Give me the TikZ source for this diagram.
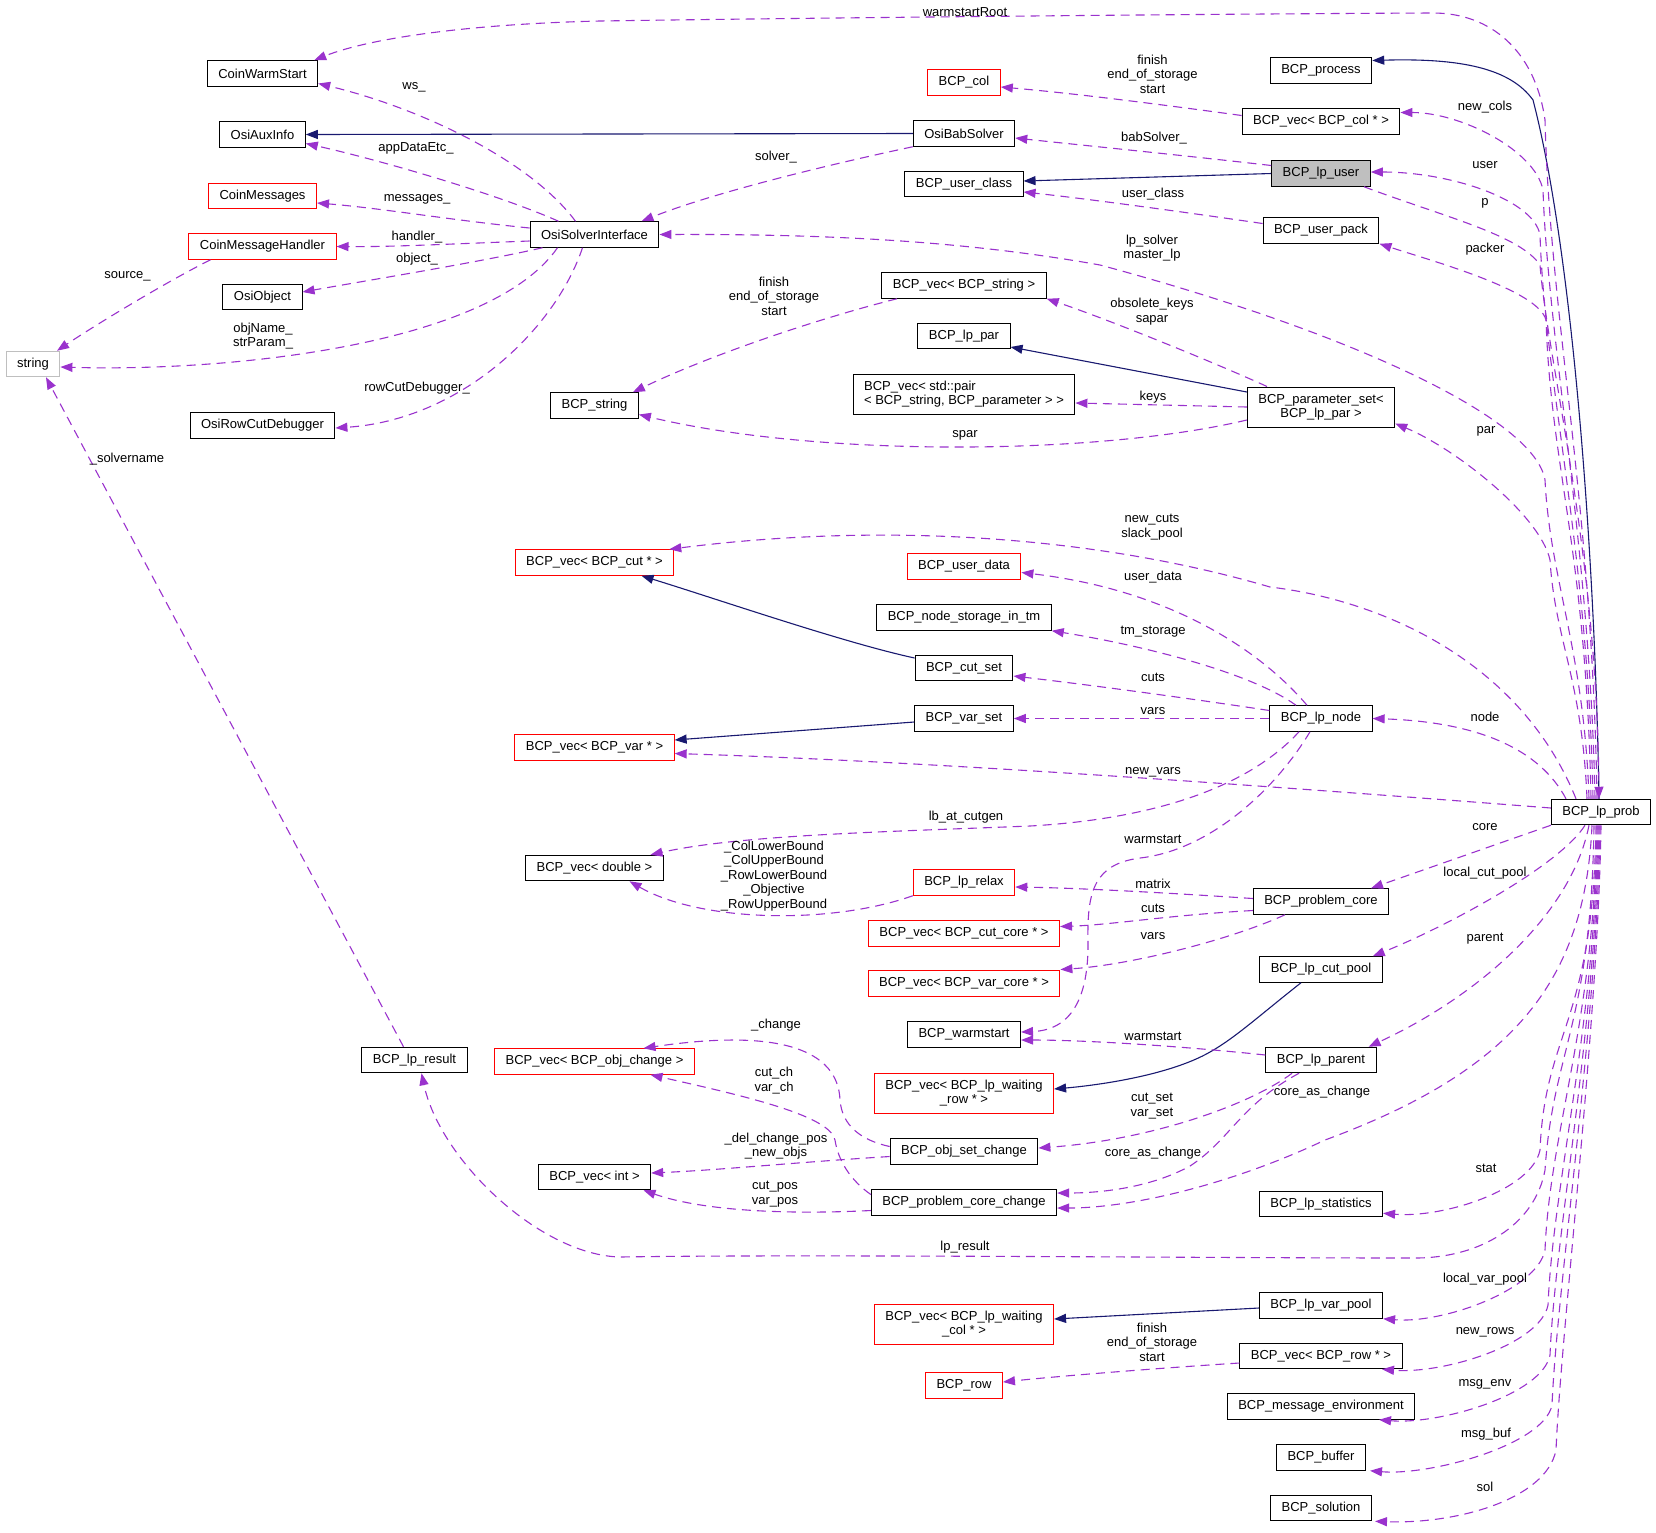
\documentclass[tikz,border=0pt]{standalone}
\usepackage{fontspec}
\setmainfont{Liberation Sans}
\usepackage{tikz}
\usetikzlibrary{arrows.meta}
\definecolor{membcol}{RGB}{154,50,205}
\definecolor{inhcol}{RGB}{25,25,112}
\definecolor{undoc}{RGB}{191,191,191}

\begin{document}
\begin{tikzpicture}[
  x=1pt,y=-1pt,
  cls/.style={draw,line width=1pt,fill=white,inner xsep=11pt,inner ysep=0pt,minimum height=25.5pt,align=center,font={\fontsize{13}{14}\selectfont}},
  ext/.style={cls,draw=red},
  tall/.style={minimum height=40pt},
  lbl/.style={inner sep=0pt,align=center,font={\fontsize{13}{14.5}\selectfont}},
  memb/.style={membcol,line width=1.1pt,dash pattern=on 9pt off 6pt,-{Triangle[length=12pt,width=9pt]}},
  inh/.style={inhcol,line width=1.1pt,-{Triangle[length=12pt,width=9pt]}}
]
\useasboundingbox (0,0) rectangle (1656,1532);

% left columns
\node[cls] (cws) at (262.5,73.5) {CoinWarmStart};
\node[cls] (aux) at (262.5,134.5) {OsiAuxInfo};
\node[ext] (cmsg) at (262.5,196) {CoinMessages};
\node[ext] (cmh) at (262.5,246.5) {CoinMessageHandler};
\node[cls] (oobj) at (262.5,297) {OsiObject};
\node[cls] (rcd) at (262.5,425.5) {OsiRowCutDebugger};
\node[cls,draw=undoc] (str) at (33,364) {string};
\node[cls] (osi) at (594.5,234.5) {OsiSolverInterface};
\node[cls] (lpres) at (414.5,1060) {BCP\_lp\_result};
\node[cls] (bstr) at (594.5,405.5) {BCP\_string};
\node[ext] (vcut) at (594.5,562.5) {BCP\_vec< BCP\_cut * >};
\node[ext] (vvar) at (594.5,747.5) {BCP\_vec< BCP\_var * >};
\node[cls] (vdbl) at (594.5,868) {BCP\_vec< double >};
\node[ext] (vobj) at (594.5,1061.5) {BCP\_vec< BCP\_obj\_change >};
\node[cls] (vint) at (594.5,1177) {BCP\_vec< int >};

% middle column
\node[ext] (col) at (964,82.5) {BCP\_col};
\node[cls] (bab) at (964,133.5) {OsiBabSolver};
\node[cls] (ucls) at (964,184) {BCP\_user\_class};
\node[cls] (vstr) at (964,285.5) {BCP\_vec< BCP\_string >};
\node[cls] (lppar) at (964,336) {BCP\_lp\_par};
\node[cls,tall,align=left] (vpair) at (964,394.5) {BCP\_vec< std::pair\\< BCP\_string, BCP\_parameter > >};
\node[ext] (udata) at (964,566.5) {BCP\_user\_data};
\node[cls] (nstor) at (964,617.5) {BCP\_node\_storage\_in\_tm};
\node[cls] (cset) at (964,668) {BCP\_cut\_set};
\node[cls] (vset) at (964,718.5) {BCP\_var\_set};
\node[ext] (relax) at (964,882.5) {BCP\_lp\_relax};
\node[ext] (vcc) at (964,933.5) {BCP\_vec< BCP\_cut\_core * >};
\node[ext] (vvc) at (964,983.5) {BCP\_vec< BCP\_var\_core * >};
\node[cls] (wst) at (964,1034.5) {BCP\_warmstart};
\node[ext,tall] (vwrow) at (964,1093) {BCP\_vec< BCP\_lp\_waiting\\\_row * >};
\node[cls] (oset) at (964,1151.5) {BCP\_obj\_set\_change};
\node[cls] (pcc) at (964,1202.5) {BCP\_problem\_core\_change};
\node[ext,tall] (vwcol) at (964,1324) {BCP\_vec< BCP\_lp\_waiting\\\_col * >};
\node[ext] (row) at (964,1385.5) {BCP\_row};

% right column
\node[cls] (proc) at (1321,70.5) {BCP\_process};
\node[cls] (vcol) at (1321,121.5) {BCP\_vec< BCP\_col * >};
\node[cls,fill=undoc] (user) at (1321,173.5) {BCP\_lp\_user};
\node[cls] (upack) at (1321,230.5) {BCP\_user\_pack};
\node[cls,tall] (pset) at (1321,407) {BCP\_parameter\_set<\\BCP\_lp\_par >};
\node[cls] (lpnode) at (1321,718.5) {BCP\_lp\_node};
\node[cls] (pcore) at (1321,901.5) {BCP\_problem\_core};
\node[cls] (cpool) at (1321,969.5) {BCP\_lp\_cut\_pool};
\node[cls] (parent) at (1321,1060) {BCP\_lp\_parent};
\node[cls] (stats) at (1321,1204) {BCP\_lp\_statistics};
\node[cls] (vpool) at (1321,1305.5) {BCP\_lp\_var\_pool};
\node[cls] (vrow) at (1321,1356) {BCP\_vec< BCP\_row * >};
\node[cls] (menv) at (1321,1406.5) {BCP\_message\_environment};
\node[cls] (buf) at (1321,1457.5) {BCP\_buffer};
\node[cls] (sol) at (1321,1508) {BCP\_solution};
\node[cls] (prob) at (1601,812) {BCP\_lp\_prob};

% inheritance
\draw[inh] ([xshift=-2pt]prob.north) .. controls (1595,550) and (1572,250) .. (1533,100) .. controls (1510,68) and (1460,58) .. ([yshift=10pt]proc.east);
\draw[inh] (bab.west) -- (aux.east);
\draw[inh] (user.west) -- ([yshift=3pt]ucls.east);
\draw[inh] ([yshift=15pt]pset.west) -- ([yshift=-11pt]lppar.east);
\draw[inh] ([yshift=10pt]cset.west) .. controls (845,643) and (720,600) .. ([xshift=47pt]vcut.south);
\draw[inh] ([yshift=-3.5pt]vset.west) -- ([yshift=7.5pt]vvar.east);
\draw[inh] ([xshift=-20pt]cpool.south) .. controls (1260,1015) and (1235,1038) .. (1210,1052) .. controls (1170,1075) and (1100,1085) .. ([yshift=4pt]vwrow.east);
\draw[inh] ([yshift=-2.5pt]vpool.west) -- ([yshift=5pt]vwcol.east);

% OsiSolverInterface members
\draw[memb] ([xshift=-19pt]osi.north) .. controls (530,160) and (420,108) .. ([yshift=-10pt]cws.east);
\draw[memb] ([xshift=-36pt]osi.north) .. controls (500,195) and (380,160) .. ([yshift=-9pt]aux.east);
\draw[memb] ([yshift=6.5pt]osi.west) .. controls (450,220) and (380,208) .. ([yshift=-7pt]cmsg.east);
\draw[memb] ([yshift=-6.5pt]osi.west) .. controls (450,244) and (390,247) .. (cmh.east);
\draw[memb] ([xshift=-52pt]osi.south) .. controls (480,262) and (370,280) .. ([yshift=5pt]oobj.east);
\draw[memb] ([xshift=-37pt]osi.south) .. controls (490,345) and (230,372) .. ([yshift=-3pt]str.east);
\draw[memb] ([xshift=-12pt]osi.south) .. controls (555,330) and (460,420) .. ([yshift=-2.5pt]rcd.east);
\draw[memb] ([xshift=-52pt]cmh.south) .. controls (170,280) and (100,322) .. ([xshift=24pt]str.north);
\draw[memb] ([xshift=-11pt]lpres.north) -- ([xshift=13pt]str.south);
\draw[memb] (bab.south west) .. controls (850,160) and (720,190) .. ([xshift=47pt]osi.north);

% top part
\draw[memb] ([yshift=8pt]user.west) .. controls (1180,155) and (1080,145) .. ([yshift=-4.5pt]bab.east);
\draw[memb] ([yshift=6pt]vcol.west) .. controls (1150,103) and (1070,93) .. ([yshift=-4.5pt]col.east);
\draw[memb] ([yshift=7pt]upack.west) .. controls (1170,210) and (1080,198) .. ([yshift=-8pt]ucls.east);
\draw[memb] ([xshift=-67pt]vstr.south) .. controls (820,318) and (710,355) .. ([xshift=-6pt]bstr.north east);
\draw[memb] ([xshift=-54pt]pset.north) .. controls (1220,365) and (1110,320) .. (vstr.south east);
\draw[memb] (pset.west) -- ([yshift=-8.5pt]vpair.east);
\draw[memb] ([yshift=-13pt]pset.west) .. controls (1100,455) and (820,458) .. ([yshift=-9pt]bstr.east);
\draw[memb] ([xshift=-4pt]prob.north) .. controls +(-5,-300) and +(5,200) .. (1545,120) .. controls (1535,50) and (1490,13) .. (1433,13) .. controls (1200,14) and (800,18) .. (600,21) .. controls (470,24) and (370,38) .. ([xshift=-4pt]cws.north east);
\draw[memb] ([xshift=-6pt]prob.north) .. controls +(-5,-250) and +(5,150) .. (1543,190) .. controls +(-8,-40) and +(60,0) .. ([yshift=9pt]vcol.east);
\draw[memb] ([xshift=-8pt]prob.north) .. controls +(-5,-250) and +(5,150) .. (1540,235) .. controls +(-6,-35) and +(80,0) .. ([yshift=1.5pt]user.east);
\draw[memb] ([xshift=43pt]user.south) .. controls +(80,30) and +(-20,-30) .. (1540,265) .. controls +(8,100) and +(-2,-250) .. ([xshift=-2pt]prob.north);
\draw[memb] ([xshift=-10pt]prob.north) .. controls +(-5,-250) and +(5,150) .. (1546,320) .. controls +(-8,-30) and +(55,18) .. (upack.south east);
\draw[memb] ([xshift=-12pt]prob.north) .. controls +(-5,-150) and +(5,100) .. (1545,480) .. controls (1535,420) and (1360,335) .. (1100,265) .. controls (960,240) and (820,234) .. (osi.east);
\draw[memb] ([xshift=-14pt]prob.north) .. controls +(-5,-120) and +(5,80) .. (1550,560) .. controls +(-10,-45) and +(60,25) .. ([yshift=4pt]pset.south east);
\draw[memb] ([xshift=-25pt]prob.north) .. controls (1520,660) and (1380,600) .. (1270,587) .. controls (1110,540) and (900,520) .. ([xshift=-5pt]vcut.north east);
\draw[memb] ([xshift=-35pt]prob.north) .. controls (1540,750) and (1480,722) .. (lpnode.east);
\draw[memb] ([yshift=4pt]prob.west) .. controls (1320,790) and (950,762) .. ([yshift=-6pt]vvar.east);

% BCP_lp_node members
\draw[memb] ([xshift=-14pt]lpnode.north) .. controls (1260,650) and (1170,590) .. ([yshift=-6pt]udata.east);
\draw[memb] ([xshift=-25pt]lpnode.north) .. controls (1250,672) and (1140,645) .. (nstor.south east);
\draw[memb] ([yshift=8pt]lpnode.west) .. controls (1180,697) and (1090,685) .. ([yshift=-8pt]cset.east);
\draw[memb] (lpnode.west) -- (vset.east);
\draw[memb] ([xshift=-22pt]lpnode.south) .. controls (1255,780) and (1170,818) .. (1030,826) .. controls (880,832) and (740,835) .. ([xshift=56pt]vdbl.north);
\draw[memb] ([xshift=-11pt]lpnode.south) .. controls (1275,790) and (1210,850) .. (1140,858) .. controls (1095,864) and (1087,890) .. (1088,940) .. controls (1089,1000) and (1070,1030) .. ([yshift=2.5pt]wst.east);

% lower middle
\draw[memb] (prob.south west) -- ([xshift=50pt]pcore.north);
\draw[memb] ([yshift=3pt]pcore.west) .. controls (1170,893) and (1080,888) .. ([yshift=-4.5pt]relax.east);
\draw[memb] ([yshift=-9pt]pcore.west) .. controls (1170,915) and (1110,925) .. ([yshift=7pt]vcc.east);
\draw[memb] ([xshift=-36pt]pcore.south) .. controls (1230,940) and (1130,965) .. ([yshift=14pt]vvc.east);
\draw[memb] (relax.south west) .. controls (830,925) and (700,922) .. ([xshift=35pt]vdbl.south);
\draw[memb] ([xshift=-16pt]prob.south) .. controls (1560,865) and (1450,925) .. ([xshift=-10pt]cpool.north east);
\draw[memb] ([xshift=-12pt]prob.south) .. controls (1570,920) and (1470,1000) .. ([xshift=-8pt]parent.north east);
\draw[memb] ([yshift=5pt]parent.west) .. controls (1170,1045) and (1080,1040) .. ([yshift=-5.5pt]wst.east);
\draw[memb] ([xshift=-22pt]parent.south) .. controls (1240,1105) and (1230,1140) .. (1190,1166) .. controls (1150,1188) and (1100,1193) .. ([yshift=9.5pt]pcc.east);
\draw[memb] ([xshift=-29pt]parent.south) .. controls (1250,1105) and (1150,1140) .. ([yshift=3.5pt]oset.east);
\draw[memb] ([xshift=-9pt]prob.south) .. controls (1585,980) and (1515,1070) .. (1325,1140) .. controls (1230,1185) and (1130,1208) .. ([yshift=-5.5pt]pcc.east);
\draw[memb] ([yshift=5pt]oset.west) .. controls (860,1140) and (842,1125) .. (840,1100) .. controls (838,1050) and (780,1028) .. ([xshift=49pt]vobj.north);
\draw[memb] ([yshift=8pt]pcc.west) .. controls (850,1180) and (838,1160) .. (835,1140) .. controls (830,1115) and (740,1095) .. ([xshift=56pt]vobj.south);
\draw[memb] ([yshift=-5pt]oset.west) .. controls (800,1162) and (720,1170) .. ([yshift=4pt]vint.east);
\draw[memb] ([yshift=-8pt]pcc.west) .. controls (780,1215) and (700,1210) .. ([xshift=49pt]vint.south);
\draw[memb] ([xshift=-7pt]prob.south) .. controls +(-3,200) and +(8,-120) .. (1545,1170) .. controls (1535,1225) and (1480,1258) .. (1415,1258) .. controls (1200,1258) and (800,1254) .. (620,1257) .. controls (540,1255) and (440,1160) .. ([xshift=7pt]lpres.south);

% bottom right
\draw[memb] ([xshift=-5pt]prob.south) .. controls +(-3,200) and +(5,-120) .. (1540,1150) .. controls +(-8,40) and +(60,5) .. ([yshift=4pt]stats.south east);
\draw[memb] ([xshift=-4pt]prob.south) .. controls +(-3,200) and +(5,-120) .. (1545,1250) .. controls +(-8,40) and +(60,5) .. (vpool.south east);
\draw[memb] ([xshift=-3pt]prob.south) .. controls +(-3,200) and +(5,-120) .. (1548,1305) .. controls +(-8,40) and +(60,5) .. ([xshift=61pt]vrow.south);
\draw[memb] ([xshift=-2pt]prob.south) .. controls +(-3,200) and +(5,-120) .. (1550,1355) .. controls +(-8,40) and +(60,5) .. ([xshift=58pt]menv.south);
\draw[memb] ([xshift=-1pt]prob.south) .. controls +(-3,200) and +(5,-120) .. (1552,1405) .. controls +(-8,40) and +(60,5) .. ([xshift=49pt]buf.south);
\draw[memb] (prob.south) .. controls +(-3,200) and +(5,-120) .. (1556,1450) .. controls +(-10,50) and +(80,3) .. ([xshift=54pt]sol.south);
\draw[memb] ([yshift=-7pt]vrow.west) .. controls (1160,1368) and (1060,1376) .. ([yshift=3.5pt]row.east);

% edge labels
\node[lbl] (lwsr) at (965,12) {warmstartRoot};
\node[lbl] (lws) at (414,87) {ws\_};
\node[lbl] (lapp) at (416,148) {appDataEtc\_};
\node[lbl] (lmsg) at (417,199) {messages\_};
\node[lbl] (lhnd) at (417,237) {handler\_};
\node[lbl] (lobj) at (417,259) {object\_};
\node[lbl] (lsrc) at (127.5,276) {source\_};
\node[lbl] (lnam) at (263,336) {objName\_\\strParam\_};
\node[lbl] (lrcd) at (417,388) {rowCutDebugger\_};
\node[lbl] (lsvn) at (127,459) {\_solvername};
\node[lbl] (lslv) at (776,157) {solver\_};
\node[lbl] (lfin1) at (774,296) {finish\\end\_of\_storage\\start};
\node[lbl] (lfin2) at (1152.5,74) {finish\\end\_of\_storage\\start};
\node[lbl] (lncol) at (1485,107) {new\_cols};
\node[lbl] (lbab) at (1154,138) {babSolver\_};
\node[lbl] (luser) at (1485,165) {user};
\node[lbl] (lucls) at (1153,194) {user\_class};
\node[lbl] (lp) at (1485,203) {p};
\node[lbl] (lpack) at (1485,249) {packer};
\node[lbl] (llps) at (1152,248) {lp\_solver\\master\_lp};
\node[lbl] (lobs) at (1152,311.5) {obsolete\_keys\\sapar};
\node[lbl] (lkeys) at (1153,397) {keys};
\node[lbl] (lspar) at (965,435) {spar};
\node[lbl] (lpar) at (1486,431) {par};
\node[lbl] (lncut) at (1152,527) {new\_cuts\\slack\_pool};
\node[lbl] (ludat) at (1153,577) {user\_data};
\node[lbl] (ltms) at (1153,632) {tm\_storage};
\node[lbl] (lcuts1) at (1153,677) {cuts};
\node[lbl] (lvars1) at (1153,711) {vars};
\node[lbl] (lnode) at (1485,717) {node};
\node[lbl] (lnvar) at (1153,772) {new\_vars};
\node[lbl] (llb) at (966,817) {lb\_at\_cutgen};
\node[lbl] (lcore) at (1485,827) {core};
\node[lbl] (lwst1) at (1153,839) {warmstart};
\node[lbl] (lbnd) at (774,876) {\_ColLowerBound\\\_ColUpperBound\\\_RowLowerBound\\\_Objective\\\_RowUpperBound};
\node[lbl] (llcp) at (1485,873) {local\_cut\_pool};
\node[lbl] (lmat) at (1153,884) {matrix};
\node[lbl] (lcuts2) at (1153,908) {cuts};
\node[lbl] (lvars2) at (1153,936) {vars};
\node[lbl] (lpnt) at (1485,939) {parent};
\node[lbl] (lchg) at (776,1025) {\_change};
\node[lbl] (lwst2) at (1153,1036) {warmstart};
\node[lbl] (lcch) at (774,1080.5) {cut\_ch\\var\_ch};
\node[lbl] (lcac1) at (1322,1092) {core\_as\_change};
\node[lbl] (lcset) at (1152,1106) {cut\_set\\var\_set};
\node[lbl] (ldel) at (776,1146) {\_del\_change\_pos\\\_new\_objs};
\node[lbl] (lcac2) at (1153,1153) {core\_as\_change};
\node[lbl] (lstat) at (1486,1168) {stat};
\node[lbl] (lcpos) at (775,1194) {cut\_pos\\var\_pos};
\node[lbl] (lres) at (965,1247) {lp\_result};
\node[lbl] (llvp) at (1485,1279) {local\_var\_pool};
\node[lbl] (lfin3) at (1152,1342) {finish\\end\_of\_storage\\start};
\node[lbl] (lnrow) at (1485,1332) {new\_rows};
\node[lbl] (lenv) at (1485,1384) {msg\_env};
\node[lbl] (lbuf) at (1486,1434) {msg\_buf};
\node[lbl] (lsol) at (1485,1487) {sol};
\end{tikzpicture}
\end{document}
